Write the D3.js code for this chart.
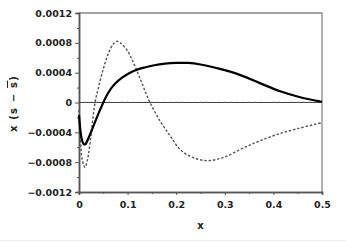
<!DOCTYPE html>
<meta charset="utf-8">
<style>
body { margin: 0; background: #fff; }
text { font-family: "DejaVu Sans", sans-serif; fill: #222; }
</style>
<body>
<script src="https://cdnjs.cloudflare.com/ajax/libs/d3/7.8.5/d3.min.js"></script>
<script>
var w = 346, h = 242;
var m = {left: 79, right: 24, top: 13, bottom: 50};

// solid curve
var solidX = [0, 0.003, 0.006, 0.01, 0.013, 0.02, 0.03, 0.04, 0.05, 0.06, 0.074, 0.09, 0.1, 0.115, 0.135, 0.155, 0.177, 0.2, 0.225, 0.25, 0.29, 0.331, 0.372, 0.414, 0.455, 0.5];
var solidY = [-0.00017, -0.00038, -0.0005, -0.00056, -0.00056, -0.00047, -0.00031, -0.00015, 0, 0.00013, 0.00025, 0.00034, 0.00038, 0.00043, 0.00047, 0.0005, 0.00052, 0.00053, 0.00053, 0.00051, 0.00045, 0.00037, 0.00026, 0.00015, 0.00007, 0.00001];

// dashed curve
var dashX = [0, 0.003, 0.007, 0.0123, 0.017, 0.022, 0.033, 0.04, 0.05, 0.06, 0.07, 0.0775, 0.085, 0.1, 0.115, 0.13, 0.146, 0.167, 0.188, 0.208, 0.235, 0.266, 0.3, 0.338, 0.37, 0.407, 0.45, 0.5];
var dashY = [-0.0001, -0.0005, -0.00078, -0.00087, -0.00078, -0.00058, 0, 0.0002, 0.00045, 0.00065, 0.00078, 0.00082, 0.0008, 0.00069, 0.00049, 0.00025, 0, -0.00025, -0.00045, -0.00063, -0.00074, -0.00078, -0.00073, -0.00061, -0.00052, -0.00043, -0.00035, -0.00027];

var xTicks = [0, 0.1, 0.2, 0.3, 0.4, 0.5];
var yTicks = [-0.0012, -0.0008, -0.0004, 0, 0.0004, 0.0008, 0.0012];
var yTickLabels = ["\u22120.0012", "\u22120.0008", "\u22120.0004", "0", "0.0004", "0.0008", "0.0012"];

var x = d3.scaleLinear().domain([0, 0.5]).range([m.left, w - m.right]);
var y = d3.scaleLinear().domain([-0.0012, 0.0012]).range([h - m.bottom, m.top]);

var svg = d3.select("body").append("svg").attr("width", w).attr("height", h);

// frame top/right
svg.append("path")
	.attr("d", "M" + x(0) + "," + y(0.0012) + "H" + x(0.5) + "V" + y(-0.0012))
	.attr("fill", "none").attr("stroke", "#888").attr("stroke-width", 1.3);

// zero line
svg.append("line")
	.attr("x1", x(0)).attr("x2", x(0.5)).attr("y1", y(0)).attr("y2", y(0))
	.attr("stroke", "#444").attr("stroke-width", 1.2);

// small marks along the zero line
svg.append("g").selectAll("line")
	.data(d3.range(0, 0.5001, 0.0125))
	.enter().append("line")
	.attr("x1", function(d) { return x(d); }).attr("x2", function(d) { return x(d); })
	.attr("y1", y(0)).attr("y2", y(0) - 1.5)
	.attr("stroke", "#999").attr("stroke-width", 0.6);

var xAxis = svg.append("g")
	.attr("transform", "translate(0," + y(-0.0012) + ")")
	.call(d3.axisBottom(x).tickValues(xTicks).tickFormat(d3.format("")).tickSize(3).tickPadding(6));
var xMinor = svg.append("g")
	.attr("transform", "translate(0," + y(-0.0012) + ")")
	.call(d3.axisBottom(x).tickValues([0.05, 0.15, 0.25, 0.35, 0.45]).tickFormat("").tickSize(2));

var yAxis = svg.append("g")
	.attr("transform", "translate(" + x(0) + ",0)")
	.call(d3.axisLeft(y).tickValues(yTicks).tickFormat(function(d, i) { return yTickLabels[i]; }).tickSize(4).tickPadding(3));
var yMinor = svg.append("g")
	.attr("transform", "translate(" + x(0) + ",0)")
	.call(d3.axisLeft(y).tickValues([-0.001, -0.0006, -0.0002, 0.0002, 0.0006, 0.001]).tickFormat("").tickSize(2));

[xAxis, xMinor, yAxis, yMinor].forEach(function(g) {
	g.select(".domain").attr("stroke", "#555").attr("stroke-width", 1.5);
	g.selectAll(".tick line").attr("stroke", "#555").attr("stroke-width", 1);
	g.selectAll("text").style("font-size", "9.5px").style("font-weight", "bold").attr("fill", "#222");
});

var line = d3.line()
	.x(function(d) { return x(d[0]); })
	.y(function(d) { return y(d[1]); })
	.curve(d3.curveCatmullRom.alpha(0.5));

svg.append("path")
	.datum(d3.zip(dashX, dashY))
	.attr("d", line)
	.attr("fill", "none").attr("stroke", "#555").attr("stroke-width", 1.4)
	.attr("stroke-dasharray", "2.5,1.8");

svg.append("path")
	.datum(d3.zip(solidX, solidY))
	.attr("d", line)
	.attr("fill", "none").attr("stroke", "#000").attr("stroke-width", 2.2);

// axis titles
svg.append("text")
	.attr("x", (x(0) + x(0.5)) / 2).attr("y", 229)
	.attr("text-anchor", "middle")
	.style("font-size", "10px").style("font-weight", "bold")
	.text("x");

var yl = svg.append("text")
	.attr("transform", "translate(17," + (y(0) + 1) + ") rotate(-90)")
	.attr("text-anchor", "middle")
	.style("font-size", "10px").style("font-weight", "bold")
	.attr("letter-spacing", "1.2");
yl.append("tspan").text("x (s \u2212 ");
yl.append("tspan").attr("text-decoration", "overline").text("s");
yl.append("tspan").text(")");

// faint bottom rule
svg.append("line")
	.attr("x1", 0).attr("x2", w).attr("y1", 240.5).attr("y2", 240.5)
	.attr("stroke", "#eee").attr("stroke-width", 1);
</script>
</body>
